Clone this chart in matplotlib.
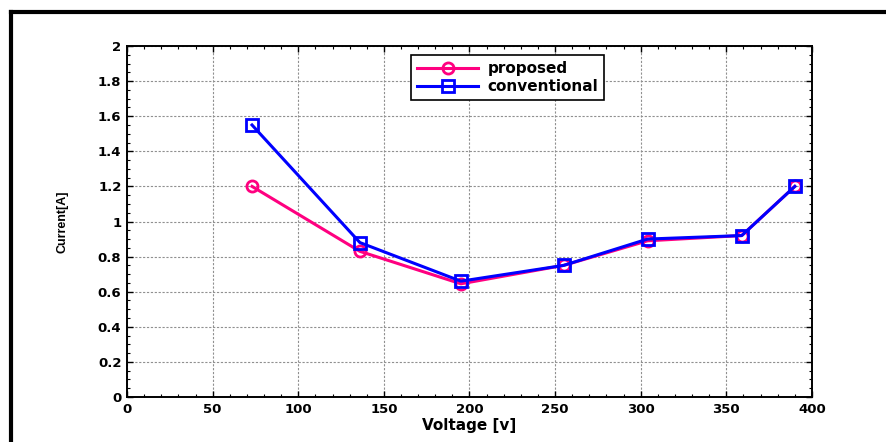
import matplotlib
matplotlib.use("Agg")
import matplotlib.pyplot as plt
from matplotlib.lines import Line2D
from matplotlib.ticker import MultipleLocator

plt.rcParams['font.family'] = ['DejaVu Sans']
plt.rcParams['font.weight'] = 'bold'

# данные
voltage = [73, 136, 195, 255, 304, 359, 390]
proposed = [1.20, 0.83, 0.645, 0.75, 0.89, 0.92, 1.20]
conventional = [1.55, 0.88, 0.66, 0.75, 0.90, 0.92, 1.20]

fig = plt.figure(figsize=(8.87, 4.42), dpi=100)
ax = fig.add_axes([0.1432, 0.1018, 0.7722, 0.7941])

ax.plot(voltage, proposed, color='#ff0080', lw=2.2, marker='o', ms=8,
        mfc='none', mew=2, label='proposed')
ax.plot(voltage, conventional, color='#0000ff', lw=2.2, marker='s', ms=8.5,
        mfc='none', mew=2, label='conventional')

ax.set_xlim(0, 400)
ax.set_ylim(0, 2)
ax.xaxis.set_major_locator(MultipleLocator(50))
ax.xaxis.set_minor_locator(MultipleLocator(10))
ax.yaxis.set_major_locator(MultipleLocator(0.2))
ax.yaxis.set_minor_locator(MultipleLocator(0.05))
ax.set_yticklabels([f'{v:g}' for v in ax.get_yticks()])

ax.tick_params(which='both', direction='in', top=True, right=True, labelsize=9.5)
ax.tick_params(which='major', length=4, width=1, pad=4)
ax.tick_params(which='minor', length=2, width=0.8)
for s in ax.spines.values():
    s.set_linewidth(1.4)

ax.grid(True, which='major', linestyle=(0, (2, 1.5)), color='#909090', lw=0.8)

ax.set_xlabel('Voltage [v]', fontsize=11, fontweight='bold', labelpad=2)
ax.set_ylabel('Current[A]', fontsize=9, fontweight='bold',
              family=['Liberation Sans Narrow', 'Liberation Sans'], labelpad=21)

leg = ax.legend(loc='upper center', bbox_to_anchor=(0.556, 0.975), fontsize=11,
                frameon=True, fancybox=False, edgecolor='black', framealpha=1,
                borderpad=0.4, handlelength=4.0, handletextpad=0.6,
                labelspacing=0.2, borderaxespad=0)
leg.get_frame().set_linewidth(1.2)

# рамка рисунка (верх и левая сторона)
fig.add_artist(Line2D([11.5 / 887, 1.0], [1 - 11.5 / 442] * 2, color='black', lw=3,
                      transform=fig.transFigure))
fig.add_artist(Line2D([11.5 / 887] * 2, [0.0, 1 - 11.5 / 442], color='black', lw=3,
                      transform=fig.transFigure))

fig.savefig('out.png', dpi=100)
